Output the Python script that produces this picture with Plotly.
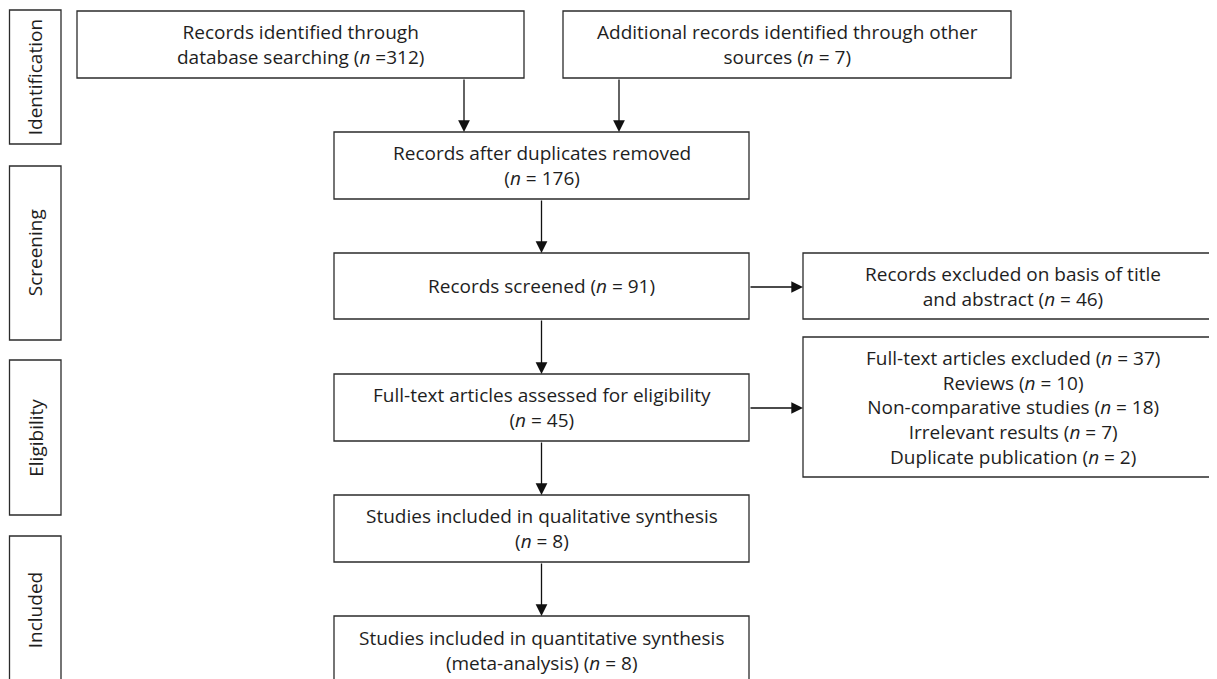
import plotly.graph_objects as go

# ---- content (data) ----
stage_labels = ["Identification", "Screening", "Eligibility", "Included"]

box_texts = [
    "Records identified through<br>database searching (<i>n</i> =312)",
    "Additional records identified through other<br>sources (<i>n</i> = 7)",
    "Records after duplicates removed<br>(<i>n</i> = 176)",
    "Records screened (<i>n</i> = 91)",
    "Records excluded on basis of title<br>and abstract (<i>n</i> = 46)",
    "Full-text articles assessed for eligibility<br>(<i>n</i> = 45)",
    "Full-text articles excluded (<i>n</i> = 37)<br>Reviews (<i>n</i> = 10)<br>Non-comparative studies (<i>n</i> = 18)<br>Irrelevant results (<i>n</i> = 7)<br>Duplicate publication (<i>n</i> = 2)",
    "Studies included in qualitative synthesis<br>(<i>n</i> = 8)",
    "Studies included in quantitative synthesis<br>(meta-analysis) (<i>n</i> = 8)",
]

# ---- layout geometry (page pixel space) ----
stage_geom = [(9.5, 61, 10, 144), (9.5, 61, 166, 340), (9.5, 61, 360, 515), (9.5, 61, 536, 684)]
box_geom = [
    (77, 524, 11, 78),
    (563, 1011, 11, 78),
    (334, 749, 132, 199),
    (334, 749, 253, 319),
    (803, 1222, 253, 319),
    (334, 749, 374, 441),
    (803, 1222, 337, 477),
    (334, 749, 495, 562),
    (334, 749, 616, 684),
]
arrow_geom = [
    ((464, 78), (464, 132)),
    ((619, 78), (619, 132)),
    ((541.5, 199), (541.5, 253)),
    ((749, 287), (803, 287)),
    ((541.5, 319), (541.5, 374)),
    ((749, 408), (803, 408)),
    ((541.5, 441), (541.5, 495)),
    ((541.5, 562), (541.5, 616)),
]

OFF = 8  # default body margin of the page
W, H = 1217, 679
LINE = "#2b2b2b"
TXT = "#1e1e1e"
FONT = "Open Sans"

fig = go.Figure()
fig.add_trace(go.Scatter(x=[OFF, W], y=[OFF, H], mode="markers",
                         marker=dict(opacity=0), hoverinfo="skip", showlegend=False))

shapes = []
annotations = []

for (x0, x1, y0, y1), lab in zip(stage_geom, stage_labels):
    shapes.append(dict(type="rect", xref="x", yref="y", x0=x0, x1=x1, y0=y0, y1=y1,
                       line=dict(color=LINE, width=1.3), fillcolor="white", layer="below"))
    annotations.append(dict(x=(x0 + x1) / 2, y=(y0 + y1) / 2, xref="x", yref="y",
                            text=lab, showarrow=False, textangle=-90,
                            font=dict(family=FONT, size=19, color=TXT),
                            xanchor="center", yanchor="middle"))

for (x0, x1, y0, y1), t in zip(box_geom, box_texts):
    shapes.append(dict(type="rect", xref="x", yref="y", x0=x0, x1=x1, y0=y0, y1=y1,
                       line=dict(color=LINE, width=1.3), fillcolor="white", layer="below"))
    annotations.append(dict(x=(x0 + x1) / 2, y=(y0 + y1) / 2, xref="x", yref="y",
                            text=t, showarrow=False, align="center",
                            font=dict(family=FONT, size=19, color=TXT),
                            xanchor="center", yanchor="middle"))

for (sx, sy), (ex, ey) in arrow_geom:
    annotations.append(dict(x=ex, y=ey, ax=sx, ay=sy, xref="x", yref="y",
                            axref="x", ayref="y", text="", showarrow=True,
                            arrowhead=2, arrowsize=1.8, arrowwidth=1.3,
                            arrowcolor="#111111", standoff=0, startstandoff=0))

fig.update_layout(
    width=W - OFF, height=H - OFF,
    margin=dict(l=0, r=0, t=0, b=0),
    paper_bgcolor="white", plot_bgcolor="white",
    xaxis=dict(range=[OFF, W], visible=False, fixedrange=True),
    yaxis=dict(range=[H, OFF], visible=False, fixedrange=True),
    shapes=shapes, annotations=annotations, showlegend=False,
)

fig.write_html("out.html", config={"displayModeBar": False})
